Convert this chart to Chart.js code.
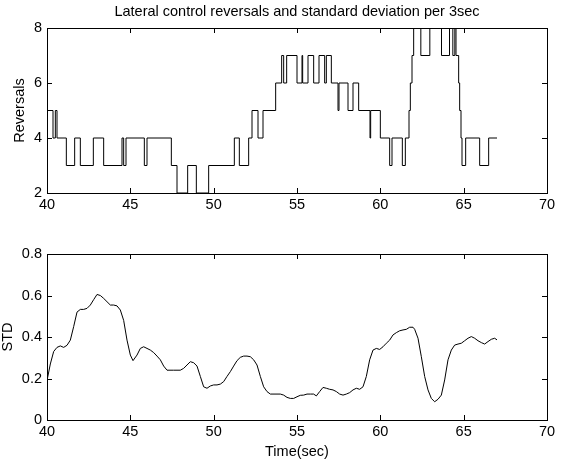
<!DOCTYPE html>
<html>
<head>
<meta charset="utf-8">
<script src="https://cdn.jsdelivr.net/npm/chart.js@4"></script>
<style>
  html, body { margin: 0; padding: 0; background: #fff; }
  #wrap { position: relative; width: 564px; height: 461px; background: #fff; }
  canvas { position: absolute; left: 0; }
</style>
</head>
<body>
<div id="wrap">
  <canvas id="top" width="564" height="215" style="top:0;width:564px;height:215px"></canvas>
  <canvas id="bot" width="564" height="246" style="top:215px;width:564px;height:246px"></canvas>
</div>
<script>
// ---- data ----
const titleText = 'Lateral control reversals and standard deviation per 3sec';
const xTickValues = [40, 45, 50, 55, 60, 65, 70];
const revTickValues = [2, 4, 6, 8];
const stdTickValues = [0, 0.2, 0.4, 0.6, 0.8];

// reversals: time where the value changes, and the value from then on
const revTimes = [40.0, 40.36, 40.5, 40.6, 41.16, 41.66, 42.0, 42.78, 43.4, 44.5, 44.6, 44.74,
  45.84, 46.0, 47.46, 47.8, 48.44, 48.96, 49.7, 51.24, 51.54, 52.1, 52.3, 52.66, 52.96,
  53.72, 54.08, 54.2, 54.38, 55.0, 55.3, 55.34, 55.66, 56.0, 56.32, 56.66, 56.76, 57.06,
  57.46, 57.52, 58.06, 58.36, 58.7, 59.38, 59.42, 60.0, 60.56, 60.7, 61.32, 61.5, 61.72,
  61.8, 61.9, 62.0, 62.43, 62.97, 63.67, 64.15, 64.35, 64.47, 64.54, 64.7, 64.76, 64.84,
  64.9, 65.12, 65.96, 66.5, 67.0];
const revValues = [5, 4, 5, 4, 3, 4, 3, 4, 3, 4, 3, 4,
  3, 4, 3, 2, 3, 2, 3, 4, 3, 4, 5, 4, 5,
  6, 7, 6, 7, 6, 7, 6, 7, 6, 7, 6, 7, 6,
  5, 6, 5, 6, 5, 4, 5, 4, 3, 4, 3, 4, 5,
  6, 7, 8, 7, 8, 7, 8, 7, 8, 7, 6, 5, 4,
  3, 4, 3, 4, 4];

const stdTimes = [40.0, 40.2, 40.4, 40.6, 40.8, 41.0, 41.2, 41.4, 41.6, 41.8, 42.0, 42.2, 42.4,
  42.6, 42.8, 43.0, 43.2, 43.4, 43.6, 43.8, 44.0, 44.2, 44.4, 44.6, 44.8, 45.0, 45.16, 45.4,
  45.6, 45.8, 46.0, 46.2, 46.4, 46.6, 46.8, 47.0, 47.2, 47.6, 48.0, 48.2, 48.4, 48.6, 48.8,
  49.0, 49.2, 49.4, 49.6, 49.8, 50.0, 50.2, 50.4, 50.6, 50.8, 51.0, 51.2, 51.4, 51.6, 51.8,
  52.0, 52.2, 52.4, 52.6, 52.8, 53.0, 53.2, 53.4, 53.8, 54.0, 54.2, 54.4, 54.6, 54.8, 55.0,
  55.2, 55.4, 55.6, 55.8, 56.0, 56.16, 56.36, 56.56, 56.76, 56.96, 57.16, 57.36, 57.56,
  57.76, 57.96, 58.16, 58.36, 58.56, 58.76, 58.96, 59.16, 59.36, 59.56, 59.76, 59.96, 60.16,
  60.36, 60.56, 60.76, 60.96, 61.16, 61.36, 61.56, 61.76, 61.96, 62.06, 62.26, 62.46, 62.66,
  62.86, 63.06, 63.26, 63.46, 63.66, 63.86, 64.06, 64.26, 64.46, 64.66, 64.86, 65.06, 65.26,
  65.46, 65.66, 65.86, 66.06, 66.26, 66.46, 66.66, 66.86, 67.0];
const stdValues = [0.19, 0.27, 0.33, 0.35, 0.357, 0.35, 0.36, 0.385, 0.45, 0.52, 0.533, 0.533, 0.538,
  0.554, 0.58, 0.605, 0.6, 0.586, 0.57, 0.554, 0.554, 0.55, 0.53, 0.48, 0.385, 0.313, 0.286, 0.313,
  0.345, 0.353, 0.345, 0.337, 0.325, 0.308, 0.29, 0.26, 0.24, 0.24, 0.24, 0.249, 0.265, 0.281, 0.276,
  0.26, 0.21, 0.16, 0.153, 0.164, 0.169, 0.169, 0.173, 0.185, 0.21, 0.233, 0.26, 0.286, 0.302, 0.308,
  0.308, 0.305, 0.29, 0.265, 0.21, 0.16, 0.137, 0.125, 0.125, 0.125, 0.12, 0.109, 0.104, 0.104, 0.112,
  0.119, 0.12, 0.125, 0.125, 0.125, 0.116, 0.137, 0.157, 0.153, 0.148, 0.145, 0.137, 0.125,
  0.12, 0.125, 0.132, 0.145, 0.153, 0.148, 0.16, 0.21, 0.29, 0.337, 0.345, 0.34, 0.353,
  0.37, 0.385, 0.41, 0.421, 0.43, 0.434, 0.437, 0.447, 0.447, 0.437, 0.394, 0.305, 0.21,
  0.145, 0.104, 0.088, 0.1, 0.12, 0.193, 0.29, 0.337, 0.361, 0.366, 0.37, 0.382, 0.394,
  0.402, 0.394, 0.382, 0.373, 0.366, 0.378, 0.389, 0.394, 0.386];

// ---- styling ----
const FONT = 'Liberation Sans, Arial, Helvetica, sans-serif';
const FS = 14.5;

const frameTicks = {
  id: 'frameTicks',
  afterDatasetsDraw(chart) {
    const ctx = chart.ctx;
    const a = chart.chartArea;
    const xs = chart.scales.x, ys = chart.scales.y;
    const L = 5;
    ctx.save();
    ctx.strokeStyle = '#000';
    ctx.lineWidth = 1;
    ctx.beginPath();
    xs.ticks.forEach(t => {
      const px = Math.round(xs.getPixelForValue(t.value)) + 0.5;
      ctx.moveTo(px, a.bottom); ctx.lineTo(px, a.bottom - L);
      ctx.moveTo(px, a.top); ctx.lineTo(px, a.top + L);
    });
    ys.ticks.forEach(t => {
      const py = Math.round(ys.getPixelForValue(t.value)) + 0.5;
      ctx.moveTo(a.left, py); ctx.lineTo(a.left + L, py);
      ctx.moveTo(a.right, py); ctx.lineTo(a.right - L, py);
    });
    ctx.stroke();
    ctx.strokeRect(Math.round(a.left) + 0.5, Math.round(a.top) + 0.5,
      Math.round(a.right - a.left), Math.round(a.bottom - a.top));
    ctx.restore();
  }
};

function makeOptions(cfg) {
  return {
    responsive: false,
    animation: false,
    devicePixelRatio: 1,
    layout: { padding: { top: cfg.padTop, right: 17, left: 0, bottom: 0 } },
    plugins: {
      legend: { display: false },
      tooltip: { enabled: false },
      title: cfg.title ? {
        display: true, text: cfg.title, fullSize: false, color: '#000',
        font: { family: FONT, size: FS, weight: 'normal' },
        padding: { top: 3.2, bottom: 7.4 }
      } : { display: false }
    },
    scales: {
      x: {
        type: 'linear', min: 40, max: 70,
        afterBuildTicks: s => { s.ticks = xTickValues.map(v => ({ value: v })); },
        afterFit: s => { s.height = cfg.xHeight; },
        grid: { display: false, drawTicks: false },
        border: { display: false },
        ticks: { color: '#000', padding: 3.3, maxRotation: 0, font: { family: FONT, size: FS } },
        title: cfg.xTitle ? {
          display: true, text: cfg.xTitle, color: '#000',
          font: { family: FONT, size: FS }, padding: { top: 2.3, bottom: 0 }
        } : { display: false }
      },
      y: {
        type: 'linear', min: cfg.yMin, max: cfg.yMax,
        afterBuildTicks: s => { s.ticks = cfg.yTicks.map(v => ({ value: v })); },
        afterFit: s => { s.width = 47; },
        grid: { display: false, drawTicks: false },
        border: { display: false },
        ticks: { color: '#000', padding: 5, font: { family: FONT, size: FS } },
        title: {
          display: true, text: cfg.yTitle, color: '#000',
          font: { family: FONT, size: FS }, padding: { top: cfg.yTitlePad, bottom: 0 }
        }
      }
    }
  };
}

new Chart(document.getElementById('top'), {
  type: 'line',
  data: {
    datasets: [{
      data: revTimes.map((t, i) => ({ x: t, y: revValues[i] })),
      borderColor: '#000', borderWidth: 1, pointRadius: 0, stepped: 'before', fill: false
    }]
  },
  options: makeOptions({ padTop: 0, title: titleText, xHeight: 22, yMin: 2, yMax: 8,
    yTicks: revTickValues, yTitle: 'Reversals', yTitlePad: 11.2 }),
  plugins: [frameTicks]
});

new Chart(document.getElementById('bot'), {
  type: 'line',
  data: {
    datasets: [{
      data: stdTimes.map((t, i) => ({ x: t, y: stdValues[i] })),
      borderColor: '#000', borderWidth: 1, pointRadius: 0, tension: 0, fill: false
    }]
  },
  options: makeOptions({ padTop: 39, title: null, xHeight: 41, yMin: 0, yMax: 0.8,
    yTicks: stdTickValues, yTitle: 'STD', xTitle: 'Time(sec)', yTitlePad: -1.2 }),
  plugins: [frameTicks]
});
</script>
</body>
</html>
